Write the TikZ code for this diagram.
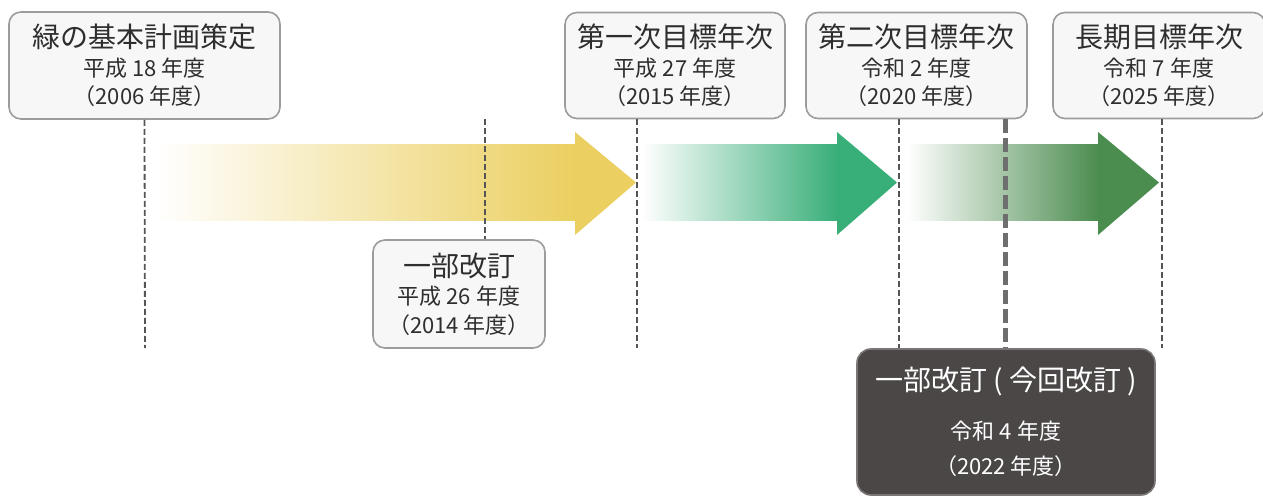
\documentclass[tikz,border=0pt]{standalone}
\usepackage{fontspec}
\setmainfont{Noto Sans CJK JP}
\definecolor{yellowc}{HTML}{EBCF60}
\definecolor{greenA}{HTML}{38AE79}
\definecolor{greenB}{HTML}{4B8C4F}
\definecolor{boxfill}{HTML}{F7F7F7}
\definecolor{boxline}{HTML}{9C9C9C}
\definecolor{darkfill}{HTML}{4B4747}
\definecolor{darkline}{HTML}{7A7676}
\definecolor{txt}{HTML}{2E2E2E}
\definecolor{dashc}{HTML}{555555}
\definecolor{thickc}{HTML}{6E6E6E}
\begin{document}
\begin{tikzpicture}[x=1pt,y=-1pt,
  infobox/.style={draw=boxline,line width=1.6pt,fill=boxfill,rounded corners=12pt,
    inner sep=0pt,align=center,text=txt,font=\fontsize{22}{28.5}\selectfont},
  darkbox/.style={draw=darkline,line width=1.6pt,fill=darkfill,rounded corners=14pt,
    inner sep=0pt,align=center,text=white,font=\fontsize{22}{35}\selectfont},
  guide/.style={draw=dashc,line width=1.8pt,dash pattern=on 6pt off 3pt},
  thickguide/.style={draw=thickc,line width=5pt,dash pattern=on 14pt off 5pt}]
\useasboundingbox (0,0) rectangle (1263,497);

% arrows
\shade[left color=white,right color=yellowc] (155,145) rectangle (576,220);
\fill[yellowc] (575,132) -- (636,182.5) -- (575,235) -- cycle;
\shade[left color=white,right color=greenA] (642,145) rectangle (838,220);
\fill[greenA] (837,132) -- (897,182.5) -- (837,235) -- cycle;
\shade[left color=white,right color=greenB] (907,145) rectangle (1099,220);
\fill[greenB] (1098,132) -- (1159,182.5) -- (1098,235) -- cycle;

% boxes
\node[infobox,minimum width=271pt,minimum height=107pt] (b1) at (144.5,65.5)
  {{\fontsize{28}{29}\selectfont 緑の基本計画策定}\\平成 18 年度\\（2006 年度）};
\node[infobox,minimum width=220pt,minimum height=106pt] (b2) at (675,65.5)
  {{\fontsize{28}{29}\selectfont 第一次目標年次}\\平成 27 年度\\（2015 年度）};
\node[infobox,minimum width=221pt,minimum height=106pt] (b3) at (916.5,65.5)
  {{\fontsize{28}{29}\selectfont 第二次目標年次}\\令和 2 年度\\（2020 年度）};
\node[infobox,minimum width=212pt,minimum height=106pt] (b4) at (1159,65.5)
  {{\fontsize{28}{29}\selectfont 長期目標年次}\\令和 7 年度\\（2025 年度）};
\node[infobox,minimum width=172pt,minimum height=108pt] (b5) at (459,294)
  {{\fontsize{28}{29}\selectfont 一部改訂}\\平成 26 年度\\（2014 年度）};
\node[darkbox,minimum width=298pt,minimum height=146pt] (b6) at (1006,422)
  {{\fontsize{28}{29}\selectfont 一部改訂 ( 今回改訂 )}\\[14pt]令和 4 年度\\（2022 年度）};

% guide lines
\coordinate (g1) at (145,348);
\coordinate (g2) at (637,348);
\coordinate (g3) at (899,348);
\coordinate (g4) at (1162,348);
\coordinate (g5) at (485,119);
\coordinate (g6) at (1005,119);
\draw[guide] (b1.south) -- (g1);
\draw[guide] (b2.south -| g2) -- (g2);
\draw[guide] (b3.south -| g3) -- (g3);
\draw[guide] (b4.south -| g4) -- (g4);
\draw[guide] (g5) -- (b5.north -| g5);
\draw[thickguide] (b3.south -| g6) -- (b6.north -| g6);
\end{tikzpicture}
\end{document}
